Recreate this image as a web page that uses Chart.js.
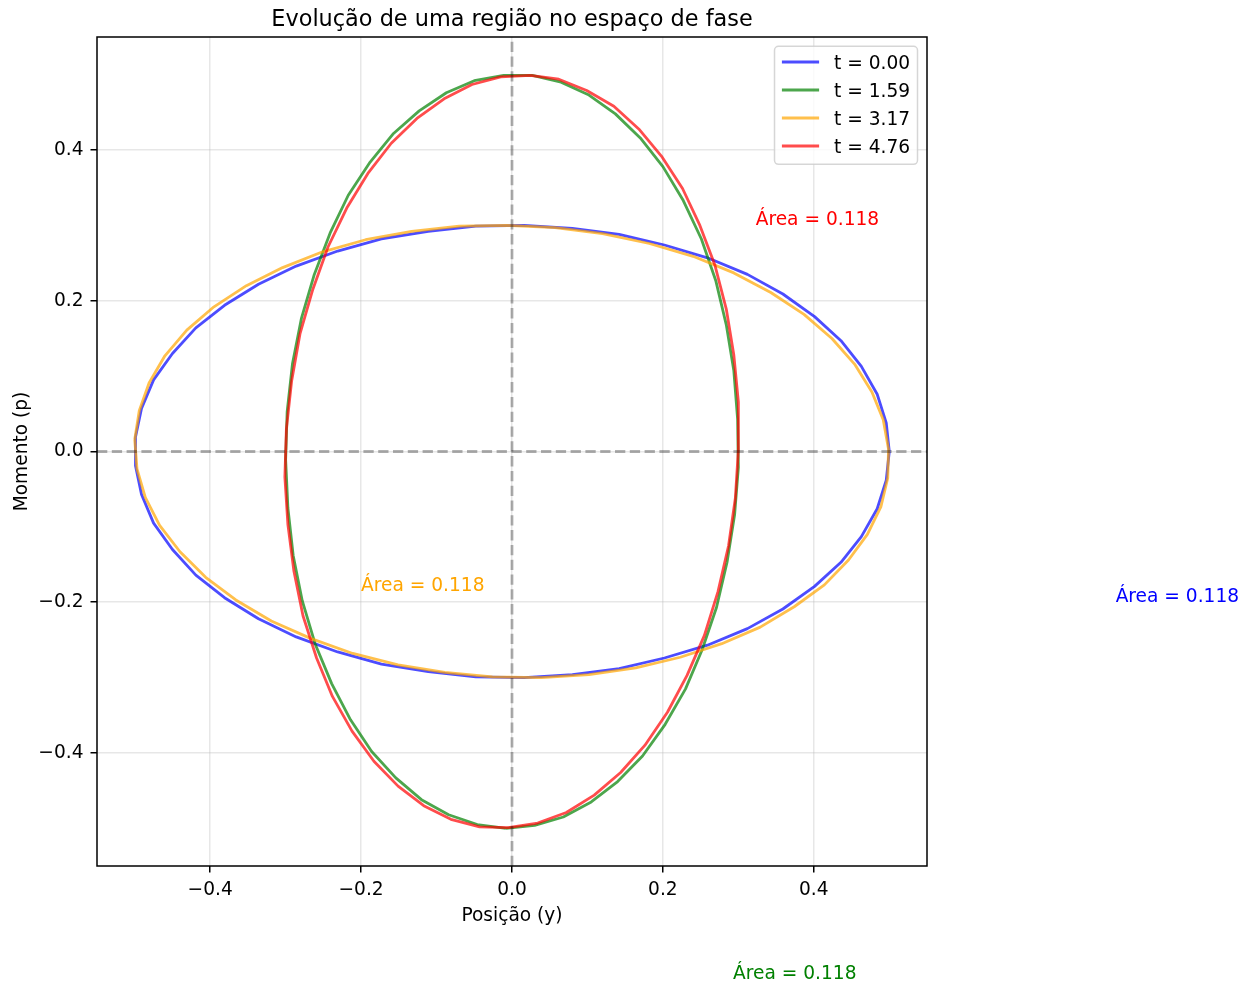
<!DOCTYPE html>
<html><head><meta charset="utf-8">
<script src="https://cdn.jsdelivr.net/npm/chart.js@4.4.0/dist/chart.umd.min.js"></script>
<style>html,body{margin:0;padding:0;background:#fff;}canvas{display:block;}</style>
</head><body>
<canvas id="c" width="1248" height="986" style="width:1248px;height:986px"></canvas>
<script>
// ---- data ----
const seriesLabels = ['t = 0.00', 't = 1.59', 't = 3.17', 't = 4.76'];

const blueX = [0.500,0.496,0.484,0.463,0.436,0.401,0.359,0.312,0.259,0.202,0.142,0.080,0.016,-0.048,-0.111,-0.173,-0.231,-0.286,-0.336,-0.381,-0.419,-0.450,-0.475,-0.491,-0.499,-0.499,-0.491,-0.475,-0.450,-0.419,-0.381,-0.336,-0.286,-0.231,-0.173,-0.111,-0.048,0.016,0.080,0.142,0.202,0.259,0.312,0.359,0.401,0.436,0.463,0.484,0.496,0.500];
const blueP = [0.000,0.038,0.076,0.113,0.147,0.179,0.209,0.235,0.257,0.274,0.288,0.296,0.300,0.299,0.292,0.282,0.266,0.246,0.222,0.194,0.164,0.130,0.095,0.057,0.019,-0.019,-0.057,-0.095,-0.130,-0.164,-0.194,-0.222,-0.246,-0.266,-0.282,-0.292,-0.299,-0.300,-0.296,-0.288,-0.274,-0.257,-0.235,-0.209,-0.179,-0.147,-0.113,-0.076,-0.038,0.000];

const greenX = [-0.008,0.030,0.068,0.105,0.140,0.173,0.203,0.230,0.252,0.271,0.285,0.295,0.300,0.299,0.294,0.284,0.270,0.251,0.227,0.200,0.170,0.137,0.102,0.065,0.027,-0.011,-0.050,-0.087,-0.123,-0.157,-0.188,-0.217,-0.241,-0.262,-0.279,-0.291,-0.298,-0.300,-0.297,-0.290,-0.278,-0.261,-0.239,-0.214,-0.186,-0.154,-0.120,-0.084,-0.046,-0.008];
const greenP = [-0.500,-0.496,-0.485,-0.465,-0.438,-0.404,-0.362,-0.315,-0.263,-0.207,-0.147,-0.084,-0.021,0.043,0.107,0.168,0.227,0.282,0.333,0.378,0.416,0.448,0.473,0.490,0.499,0.499,0.492,0.476,0.452,0.422,0.384,0.340,0.290,0.235,0.177,0.116,0.053,-0.011,-0.075,-0.138,-0.198,-0.255,-0.308,-0.356,-0.398,-0.433,-0.462,-0.482,-0.495,-0.500];

const orangeX = [-0.500,-0.497,-0.486,-0.467,-0.440,-0.406,-0.366,-0.319,-0.267,-0.211,-0.151,-0.089,-0.026,0.039,0.102,0.164,0.223,0.278,0.329,0.374,0.414,0.446,0.471,0.489,0.498,0.499,0.492,0.477,0.454,0.424,0.387,0.343,0.294,0.240,0.182,0.120,0.057,-0.007,-0.070,-0.133,-0.194,-0.251,-0.304,-0.352,-0.395,-0.431,-0.460,-0.481,-0.494,-0.500];
const orangeP = [0.016,-0.023,-0.061,-0.098,-0.133,-0.167,-0.197,-0.225,-0.248,-0.268,-0.283,-0.293,-0.299,-0.300,-0.296,-0.287,-0.273,-0.255,-0.233,-0.206,-0.177,-0.144,-0.110,-0.073,-0.035,0.003,0.042,0.079,0.116,0.150,0.182,0.211,0.237,0.259,0.276,0.289,0.297,0.300,0.299,0.292,0.281,0.265,0.244,0.220,0.192,0.161,0.127,0.091,0.054,0.016];

const redX = [0.024,-0.015,-0.053,-0.090,-0.126,-0.160,-0.191,-0.219,-0.244,-0.264,-0.281,-0.292,-0.299,-0.301,-0.297,-0.289,-0.277,-0.259,-0.238,-0.212,-0.183,-0.151,-0.117,-0.081,-0.043,-0.005,0.034,0.072,0.109,0.144,0.176,0.206,0.232,0.255,0.273,0.287,0.296,0.300,0.300,0.294,0.284,0.269,0.249,0.226,0.198,0.168,0.135,0.099,0.062,0.024];
const redP = [0.499,0.497,0.487,0.468,0.442,0.409,0.369,0.323,0.271,0.215,0.156,0.094,0.030,-0.034,-0.097,-0.159,-0.218,-0.274,-0.325,-0.371,-0.411,-0.444,-0.470,-0.488,-0.498,-0.499,-0.493,-0.479,-0.456,-0.426,-0.390,-0.346,-0.297,-0.244,-0.186,-0.125,-0.062,0.002,0.066,0.128,0.189,0.247,0.300,0.349,0.392,0.428,0.458,0.479,0.494,0.499];

const xTicks = [-0.4, -0.2, 0.0, 0.2, 0.4];
const xTickLabels = ['\u22120.4', '\u22120.2', '0.0', '0.2', '0.4'];
const yTicks = [-0.4, -0.2, 0.0, 0.2, 0.4];
const yTickLabels = ['\u22120.4', '\u22120.2', '0.0', '0.2', '0.4'];

const areaTexts = ['\u00c1rea = 0.118', '\u00c1rea = 0.118', '\u00c1rea = 0.118', '\u00c1rea = 0.118'];
const areaX = [0.800, 0.293, -0.200, 0.323];
const areaY = [-0.200, -0.700, -0.185, 0.300];

const titleText = 'Evolu\u00e7\u00e3o de uma regi\u00e3o no espa\u00e7o de fase';
const xTitle = 'Posi\u00e7\u00e3o (y)';
const yTitle = 'Momento (p)';

// ---- styles ----
const lineColors = ['rgba(0,0,255,0.7)', 'rgba(0,128,0,0.7)', 'rgba(255,165,0,0.7)', 'rgba(255,0,0,0.7)'];
const textColors = ['blue', 'green', 'orange', 'red'];
const FONT = "'DejaVu Sans', sans-serif";
const FS = 18.6;
const LW = 2.8;

Chart.defaults.font.family = FONT;
Chart.defaults.font.size = FS;
Chart.defaults.color = '#000';

const seriesX = [blueX, greenX, orangeX, redX];
const seriesP = [blueP, greenP, orangeP, redP];

const datasets = seriesX.map((xs, i) => ({
  label: seriesLabels[i],
  data: xs.map((x, j) => ({ x: x, y: seriesP[i][j] })),
  showLine: true,
  borderColor: lineColors[i],
  backgroundColor: lineColors[i],
  borderWidth: LW,
  pointRadius: 0,
  tension: 0,
  fill: false,
  borderJoinStyle: 'round',
  order: 3 - i
}));

function rrect(ctx, x, y, w, h, r) {
  ctx.beginPath();
  ctx.moveTo(x + r, y);
  ctx.lineTo(x + w - r, y);
  ctx.arcTo(x + w, y, x + w, y + r, r);
  ctx.lineTo(x + w, y + h - r);
  ctx.arcTo(x + w, y + h, x + w - r, y + h, r);
  ctx.lineTo(x + r, y + h);
  ctx.arcTo(x, y + h, x, y + h - r, r);
  ctx.lineTo(x, y + r);
  ctx.arcTo(x, y, x + r, y, r);
  ctx.closePath();
}

const deco = {
  id: 'deco',
  afterDatasetsDraw(chart) {
    const { ctx, chartArea: a, scales } = chart;
    const x0 = scales.x.getPixelForValue(0), y0 = scales.y.getPixelForValue(0);
    ctx.save();
    ctx.beginPath(); ctx.rect(a.left, a.top, a.right - a.left, a.bottom - a.top); ctx.clip();
    ctx.strokeStyle = 'rgba(0,0,0,0.3)';
    ctx.lineWidth = LW;
    ctx.setLineDash([10.3, 4.5]);
    ctx.beginPath(); ctx.moveTo(a.left, y0); ctx.lineTo(a.right, y0); ctx.stroke();
    ctx.beginPath(); ctx.moveTo(x0, a.bottom); ctx.lineTo(x0, a.top); ctx.stroke();
    ctx.restore();
  },
  afterDraw(chart) {
    const { ctx, chartArea: a, scales } = chart;
    ctx.save();
    // frame
    ctx.strokeStyle = '#000'; ctx.lineWidth = 1.5; ctx.setLineDash([]);
    ctx.strokeRect(a.left, a.top, a.right - a.left, a.bottom - a.top);
    // title
    ctx.fillStyle = '#000';
    ctx.textAlign = 'center'; ctx.textBaseline = 'alphabetic';
    ctx.font = '22.4px ' + FONT;
    ctx.fillText(titleText, (a.left + a.right) / 2, a.top - 11);
    // axis titles
    ctx.font = FS + 'px ' + FONT;
    ctx.fillText(xTitle, (a.left + a.right) / 2, a.bottom + 54.5);
    ctx.save();
    ctx.translate(27, (a.top + a.bottom) / 2);
    ctx.rotate(-Math.PI / 2);
    ctx.fillText(yTitle, 0, 0);
    ctx.restore();
    // area annotations
    ctx.textAlign = 'left';
    areaTexts.forEach((t, i) => {
      ctx.fillStyle = textColors[i];
      ctx.fillText(t, scales.x.getPixelForValue(areaX[i]), scales.y.getPixelForValue(areaY[i]));
    });
    // legend
    const tw = Math.max(...seriesLabels.map(l => ctx.measureText(l).width));
    const pad = 7.4, hl = 37.2, htp = 14.9;
    const w = pad + hl + htp + tw + pad;
    const lx = a.right - 9.5 - w, ly = a.top + 9.3, h = 118;
    rrect(ctx, lx, ly, w, h, 4);
    ctx.fillStyle = 'rgba(255,255,255,0.8)'; ctx.fill();
    ctx.strokeStyle = 'rgba(204,204,204,0.8)'; ctx.lineWidth = 1.5; ctx.stroke();
    seriesLabels.forEach((l, i) => {
      const cy = ly + 15.7 + i * 28;
      ctx.strokeStyle = lineColors[i]; ctx.lineWidth = LW;
      ctx.beginPath(); ctx.moveTo(lx + pad, cy); ctx.lineTo(lx + pad + hl, cy); ctx.stroke();
      ctx.fillStyle = '#000';
      ctx.fillText(l, lx + pad + hl + htp, cy + 6.7);
    });
    ctx.restore();
  }
};

const gridOpts = { color: 'rgba(176,176,176,0.3)', lineWidth: 1.5, tickColor: '#000', tickLength: 6.5, tickWidth: 1.5 };

new Chart(document.getElementById('c'), {
  type: 'scatter',
  data: { datasets: datasets },
  options: {
    responsive: false,
    animation: false,
    devicePixelRatio: 1,
    layout: { padding: { left: 0, right: 321, top: 37, bottom: 0 } },
    plugins: { legend: { display: false }, title: { display: false }, tooltip: { enabled: false } },
    scales: {
      x: {
        type: 'linear', min: -0.55, max: 0.55,
        afterFit: s => { s.height = 120; },
        afterBuildTicks: s => { s.ticks = xTicks.map(v => ({ value: v })); },
        ticks: { callback: v => xTickLabels[xTicks.findIndex(t => Math.abs(t - v) < 1e-9)], maxRotation: 0, autoSkip: false, padding: 6.5, color: '#000', font: { size: FS } },
        grid: gridOpts,
        border: { display: false }
      },
      y: {
        type: 'linear', min: -0.55, max: 0.55,
        afterFit: s => { s.width = 97; },
        afterBuildTicks: s => { s.ticks = yTicks.map(v => ({ value: v })); },
        ticks: { callback: v => yTickLabels[yTicks.findIndex(t => Math.abs(t - v) < 1e-9)], autoSkip: false, padding: 7, color: '#000', font: { size: FS } },
        grid: gridOpts,
        border: { display: false }
      }
    }
  },
  plugins: [deco]
});
</script>
</body></html>
